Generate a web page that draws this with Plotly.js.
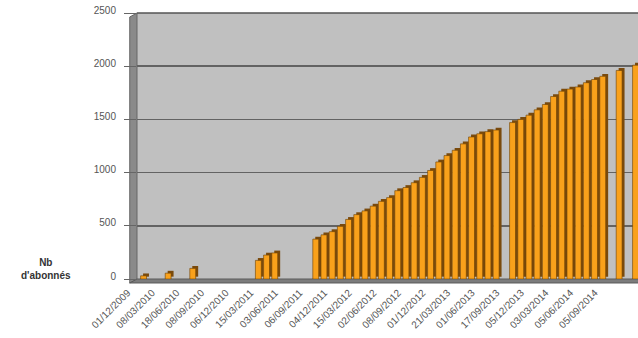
<!DOCTYPE html>
<html>
<head>
<meta charset="utf-8">
<script src="https://cdn.plot.ly/plotly-3.0.1.min.js"></script>
<style>html,body{margin:0;padding:0;background:#fff;}#chart{width:638px;height:338px;}</style>
</head>
<body>
<div id="chart"></div>
<script>
// Categories (one per slot, roughly monthly)
const categories = [
  "01/12/2009","01/01/2010","01/02/2010","08/03/2010","01/04/2010","01/05/2010",
  "18/06/2010","01/07/2010","01/08/2010","08/09/2010","01/10/2010","01/11/2010",
  "06/12/2010","01/01/2011","01/02/2011","15/03/2011","01/04/2011","01/05/2011",
  "03/06/2011","01/07/2011","01/08/2011","06/09/2011","01/10/2011","01/11/2011",
  "04/12/2011","01/01/2012","01/02/2012","15/03/2012","01/04/2012","01/05/2012",
  "02/06/2012","01/07/2012","01/08/2012","08/09/2012","01/10/2012","01/11/2012",
  "01/12/2012","01/01/2013","01/02/2013","21/03/2013","01/04/2013","01/05/2013",
  "01/06/2013","01/07/2013","01/08/2013","17/09/2013","01/10/2013","01/11/2013",
  "05/12/2013","01/01/2014","01/02/2014","03/03/2014","01/04/2014","01/05/2014",
  "05/06/2014","01/07/2014","01/08/2014","05/09/2014","01/10/2014","01/11/2014",
  "01/12/2014"
];
// Number of subscribers (null = no data)
const abonnes = [
  30, null, null, 55, null, null,
  100, null, null, null, null, null,
  null, null, 175, 225, 245, null,
  null, null, null, 375, 415, 445,
  495, 560, 605, 640, 685, 730,
  765, 830, 860, 905, 955, 1020,
  1100, 1160, 1210, 1270, 1335, 1365,
  1385, 1400, null, 1470, 1500, 1540,
  1590, 1640, 1715, 1765, 1785, 1805,
  1845, 1875, 1905, null, 1960, null,
  2010
];
// Labelled ticks (every third category)
const tickLabels = [
  "01/12/2009","08/03/2010","18/06/2010","08/09/2010","06/12/2010","15/03/2011",
  "03/06/2011","06/09/2011","04/12/2011","15/03/2012","02/06/2012","08/09/2012",
  "01/12/2012","21/03/2013","01/06/2013","17/09/2013","05/12/2013","03/03/2014",
  "05/06/2014","05/09/2014"
];
const yTicks = [0, 500, 1000, 1500, 2000, 2500];

const FONT = "Liberation Sans, Arial, sans-serif";

const shadow = {
  type: "bar", x: categories, y: abonnes, base: 22,
  width: 0.72, offset: -0.06,
  marker: {color: "#7a4a0c", line: {width: 0}},
  hoverinfo: "skip", showlegend: false
};
const front = {
  type: "bar", x: categories, y: abonnes,
  width: 0.72, offset: -0.36,
  marker: {color: "#f9a11b", line: {color: "#6b4000", width: 0.6}},
  showlegend: false
};

const layout = {
  width: 638, height: 338,
  margin: {l: 137, r: 0, t: 13, b: 59, pad: 0},
  paper_bgcolor: "#ffffff",
  plot_bgcolor: "#c0c0c0",
  barmode: "overlay",
  showlegend: false,
  font: {family: FONT, size: 10, color: "#4a4a4a"},
  xaxis: {
    type: "category",
    categoryorder: "array", categoryarray: categories,
    range: [-0.8, 60.3],
    tickmode: "array", tickvals: tickLabels, ticktext: tickLabels,
    tickangle: -45,
    ticks: "", showgrid: false, zeroline: false, showline: false,
    ticklabelshift: -16, ticklabelstandoff: 5,
    tickfont: {family: FONT, size: 10, color: "#555"}
  },
  yaxis: {
    range: [0, 2500],
    tickmode: "array", tickvals: yTicks, ticktext: yTicks.map(String),
    showgrid: true, gridcolor: "#636363", gridwidth: 1.6,
    zeroline: false, showline: false,
    ticks: "outside", ticklen: 12, tickcolor: "#666", tickwidth: 1,
    ticklabelshift: -3, ticklabelstandoff: 6,
    tickfont: {family: FONT, size: 10, color: "#555"}
  },
  shapes: [
    // left side wall (3D effect)
    {type: "path", xref: "paper", yref: "paper", layer: "below",
     path: "M -0.0145,-0.015 L 0,0 L 0,1 L -0.0145,0.985 Z",
     fillcolor: "#8a8a8a", line: {color: "#666", width: 1}},
    // floor
    {type: "path", xref: "paper", yref: "paper", layer: "below",
     path: "M -0.0145,-0.015 L 1.01,-0.015 L 1.01,0 L 0,0 Z",
     fillcolor: "#7c7c7c", line: {color: "#5a5a5a", width: 1}},
    // top edge of back wall
    {type: "line", xref: "paper", yref: "paper", x0: 0, x1: 1, y0: 1, y1: 1,
     line: {color: "#555", width: 1.5}}
  ],
  annotations: [
    {text: "<b>Nb</b><br><b>d'abonnés</b>", xref: "paper", yref: "paper",
     x: (46 - 137) / 501, y: (279 - 269) / 266, xanchor: "center", yanchor: "middle",
     showarrow: false, align: "center",
     font: {family: FONT, size: 10, color: "#333"}}
  ]
};

Plotly.newPlot("chart", [shadow, front], layout, {displayModeBar: false, staticPlot: true});
</script>
</body>
</html>
